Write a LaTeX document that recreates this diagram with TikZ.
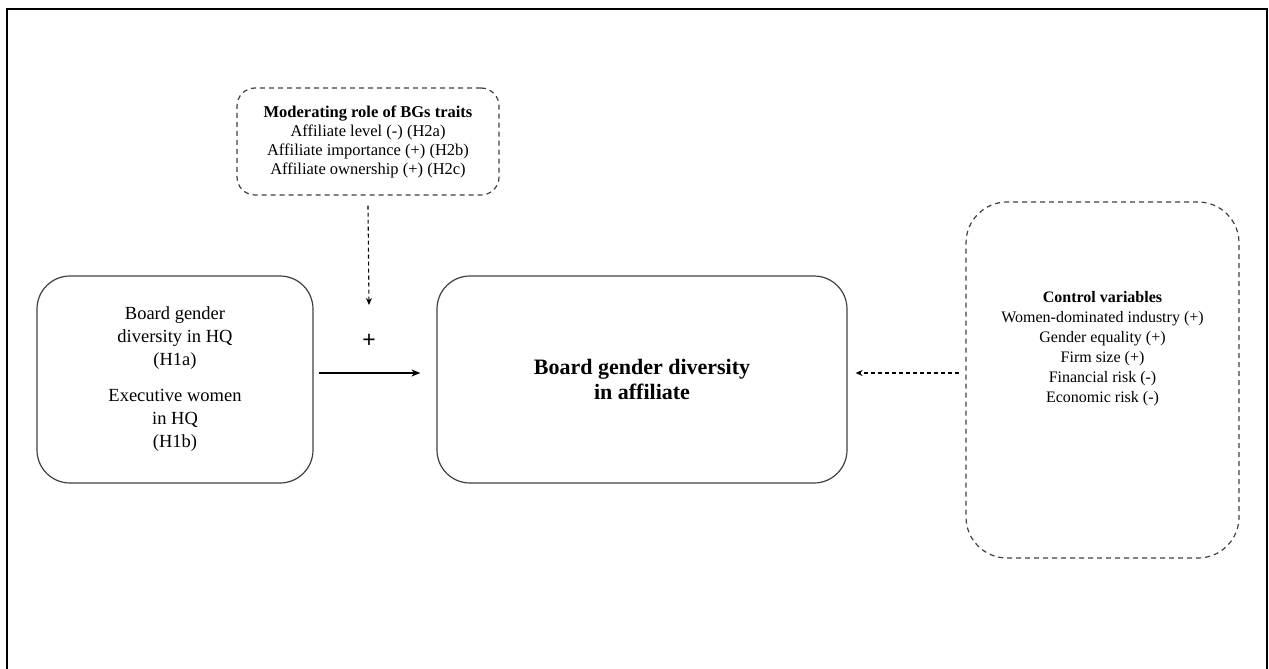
\documentclass[tikz,border=0pt]{standalone}
\usepackage{fontspec}
\setmainfont{Liberation Serif}
\newfontfamily\plusfont{Liberation Sans}
\usepackage{tikz}
\usetikzlibrary{arrows.meta,positioning,calc}
\usepackage{xcolor}
\definecolor{boxline}{HTML}{404040}

\begin{document}
\begin{tikzpicture}[x=1pt,y=-1pt,
  box/.style={rectangle,draw=boxline,line width=1.2pt,rounded corners=33pt,
              text centered,align=center},
  dbox/.style={box,dashed,dash pattern=on 5pt off 4pt},
  arrow/.style={-{Stealth[length=9pt,width=7pt]},line width=1.1pt},
  darrow/.style={-{Stealth[length=7pt,width=6pt]},line width=1.1pt,dash pattern=on 4pt off 3pt}
]
\useasboundingbox (0,0) rectangle (1269,669);
\draw[line width=2pt] (7,672) -- (7,9) -- (1267,9) -- (1267,672);

% boxes
\node[dbox,rounded corners=18pt,minimum width=262pt,minimum height=107pt,
      font=\fontsize{16.5}{19}\selectfont] (mod) at (368,141.5)
  {\textbf{Moderating role of BGs traits}\\Affiliate level (-) (H2a)\\
   Affiliate importance (+) (H2b)\\Affiliate ownership (+) (H2c)};
\node[box,minimum width=276pt,minimum height=207pt,
      font=\fontsize{18.5}{23}\selectfont] (hq) at (175,379.5)
  {Board gender\\diversity in HQ\\(H1a)\\[13pt]Executive women\\in HQ\\(H1b)};
\node[box,minimum width=410pt,minimum height=207pt,
      font=\fontsize{22}{25}\selectfont\bfseries] (aff) at (642,379.5)
  {Board gender diversity\\in affiliate};
\node[dbox,rounded corners=41pt,minimum width=273pt,minimum height=356pt] (ctrl) at (1102.5,380) {};
\node[align=center,font=\fontsize{16}{20}\selectfont] (ctrltxt) at (1102.5,349)
  {\textbf{Control variables}\\Women-dominated industry (+)\\Gender equality (+)\\
   Firm size (+)\\Financial risk (-)\\Economic risk (-)};

\node[font=\plusfont\fontsize{23}{23}\selectfont] (plus) at (369,341) {+};
\coordinate (modend) at (369,305);

\draw[darrow] ([yshift=-10pt]mod.south) -- (modend);
\draw[arrow,shorten <=5pt,shorten >=16pt] ([yshift=6.5pt]hq.east) -- ([yshift=6.5pt]aff.west);
\draw[darrow,shorten <=6pt,shorten >=8pt] ([yshift=7pt]ctrl.west) -- ([yshift=6.5pt]aff.east);
\end{tikzpicture}
\end{document}
